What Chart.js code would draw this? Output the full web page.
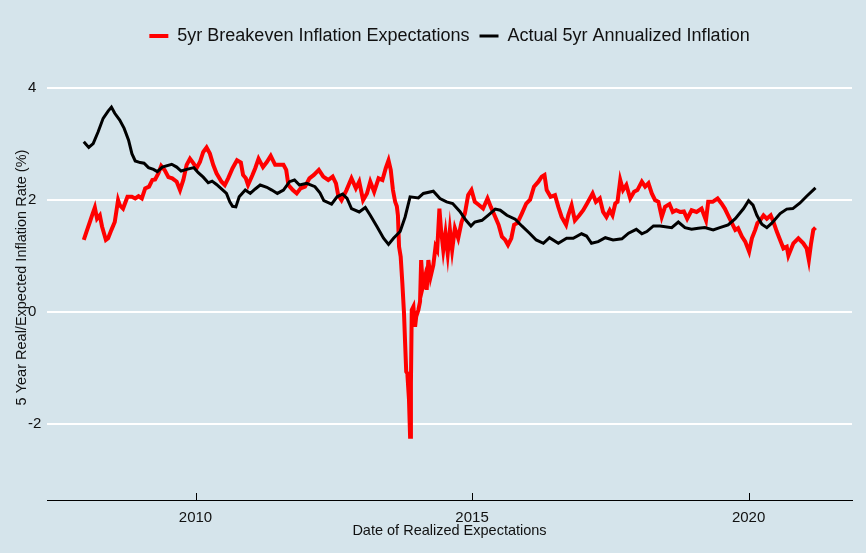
<!DOCTYPE html>
<html><head><meta charset="utf-8">
<script src="https://cdn.jsdelivr.net/npm/chart.js@4/dist/chart.umd.min.js"></script>
<style>html,body{margin:0;padding:0;background:#d5e4eb;}canvas{display:block}</style>
</head><body>
<canvas id="c" width="866" height="553"></canvas>
<script>
const seriesNames = ['5yr Breakeven Inflation Expectations', 'Actual 5yr Annualized Inflation'];
const breakevenDates = [2007.98,2008.03,2008.09,2008.13,2008.18,2008.22,2008.27,2008.31,2008.38,2008.42,2008.48,2008.54,2008.60,2008.63,2008.69,2008.77,2008.85,2008.91,2008.97,2009.03,2009.09,2009.16,2009.22,2009.27,2009.33,2009.38,2009.44,2009.51,2009.58,2009.66,2009.72,2009.78,2009.84,2009.90,2009.96,2010.02,2010.08,2010.14,2010.20,2010.26,2010.32,2010.38,2010.47,2010.53,2010.59,2010.67,2010.75,2010.82,2010.86,2010.91,2010.95,2011.03,2011.08,2011.14,2011.22,2011.29,2011.36,2011.44,2011.53,2011.59,2011.64,2011.68,2011.76,2011.83,2011.90,2011.98,2012.06,2012.14,2012.23,2012.31,2012.40,2012.48,2012.54,2012.58,2012.64,2012.73,2012.82,2012.90,2012.96,2013.03,2013.10,2013.16,2013.23,2013.31,2013.38,2013.44,2013.49,2013.53,2013.57,2013.61,2013.64,2013.66,2013.68,2013.71,2013.74,2013.77,2013.79,2013.81,2013.83,2013.86,2013.88,2013.895,2013.91,2013.94,2013.97,2013.99,2014.03,2014.06,2014.08,2014.11,2014.15,2014.18,2014.21,2014.25,2014.30,2014.34,2014.37,2014.41,2014.44,2014.48,2014.52,2014.56,2014.60,2014.64,2014.69,2014.75,2014.81,2014.87,2014.93,2014.99,2015.05,2015.13,2015.20,2015.28,2015.34,2015.42,2015.48,2015.54,2015.60,2015.65,2015.71,2015.76,2015.82,2015.90,2015.98,2016.05,2016.12,2016.20,2016.26,2016.31,2016.35,2016.42,2016.50,2016.56,2016.62,2016.70,2016.74,2016.80,2016.86,2016.94,2017.01,2017.08,2017.18,2017.24,2017.31,2017.37,2017.43,2017.49,2017.54,2017.59,2017.63,2017.68,2017.73,2017.79,2017.86,2017.93,2017.99,2018.07,2018.13,2018.19,2018.25,2018.31,2018.37,2018.43,2018.49,2018.57,2018.63,2018.69,2018.76,2018.83,2018.89,2018.97,2019.06,2019.15,2019.23,2019.27,2019.35,2019.44,2019.51,2019.57,2019.63,2019.69,2019.76,2019.81,2019.88,2019.94,2020.01,2020.06,2020.12,2020.16,2020.21,2020.27,2020.33,2020.40,2020.45,2020.51,2020.57,2020.63,2020.69,2020.72,2020.81,2020.90,2020.99,2021.05,2021.09,2021.13,2021.17,2021.21];
const breakevenValues = [1.28,1.43,1.60,1.72,1.86,1.66,1.72,1.52,1.28,1.31,1.46,1.60,1.99,1.90,1.84,2.05,2.05,2.02,2.06,2.02,2.20,2.23,2.35,2.36,2.47,2.60,2.53,2.40,2.38,2.32,2.17,2.35,2.62,2.73,2.65,2.56,2.67,2.85,2.93,2.82,2.62,2.47,2.32,2.26,2.38,2.56,2.70,2.66,2.44,2.38,2.26,2.44,2.56,2.73,2.58,2.67,2.78,2.62,2.62,2.62,2.53,2.26,2.17,2.11,2.20,2.23,2.38,2.44,2.53,2.41,2.35,2.41,2.29,2.08,1.99,2.17,2.38,2.20,2.32,1.99,2.11,2.32,2.14,2.38,2.35,2.56,2.70,2.53,2.17,1.96,1.88,1.72,1.16,0.98,0.51,-0.03,-0.56,-1.07,-1.10,-1.57,-2.23,-1.28,0.03,0.09,-0.27,-0.09,0.03,0.18,0.92,0.45,0.62,0.39,0.92,0.62,0.83,1.16,1.10,1.84,1.46,1.10,1.40,1.04,1.46,1.10,1.49,1.31,1.60,1.75,2.08,2.17,1.96,1.90,1.84,2.02,1.87,1.69,1.55,1.34,1.28,1.19,1.31,1.55,1.58,1.75,1.93,2.00,2.23,2.32,2.41,2.44,2.17,2.05,2.08,1.87,1.69,1.55,1.72,1.90,1.63,1.72,1.81,1.93,2.11,1.96,2.02,1.78,1.69,1.81,1.72,1.93,1.96,2.35,2.17,2.26,2.02,2.14,2.17,2.32,2.23,2.29,2.11,1.99,1.96,1.69,1.87,1.92,1.78,1.81,1.78,1.79,1.66,1.81,1.78,1.84,1.63,1.96,1.96,2.02,1.93,1.84,1.72,1.60,1.46,1.49,1.34,1.25,1.07,1.31,1.46,1.58,1.63,1.72,1.66,1.72,1.60,1.43,1.28,1.13,1.16,1.00,1.22,1.31,1.22,1.13,0.92,1.22,1.46,1.50];
const actualDates = [2007.98,2008.07,2008.15,2008.24,2008.33,2008.42,2008.48,2008.54,2008.63,2008.71,2008.79,2008.85,2008.91,2009.00,2009.07,2009.15,2009.24,2009.31,2009.40,2009.57,2009.66,2009.74,2009.84,2009.97,2010.05,2010.14,2010.23,2010.30,2010.38,2010.47,2010.56,2010.62,2010.67,2010.73,2010.79,2010.90,2010.99,2011.08,2011.17,2011.29,2011.38,2011.48,2011.59,2011.70,2011.79,2011.88,2012.01,2012.16,2012.25,2012.32,2012.46,2012.56,2012.66,2012.74,2012.82,2012.96,2013.07,2013.16,2013.28,2013.40,2013.49,2013.58,2013.70,2013.79,2013.88,2014.03,2014.12,2014.30,2014.42,2014.54,2014.65,2014.78,2014.89,2014.98,2015.05,2015.18,2015.29,2015.42,2015.51,2015.63,2015.78,2015.90,2016.04,2016.16,2016.29,2016.40,2016.56,2016.71,2016.83,2016.98,2017.07,2017.16,2017.28,2017.41,2017.55,2017.71,2017.83,2017.97,2018.07,2018.16,2018.28,2018.40,2018.61,2018.73,2018.85,2018.97,2019.09,2019.21,2019.36,2019.48,2019.63,2019.76,2019.91,2020.00,2020.08,2020.15,2020.24,2020.33,2020.42,2020.57,2020.69,2020.80,2020.93,2021.05,2021.21];
const actualValues = [3.03,2.93,3.00,3.21,3.45,3.58,3.65,3.54,3.42,3.27,3.06,2.82,2.69,2.66,2.65,2.57,2.54,2.50,2.58,2.63,2.58,2.51,2.54,2.57,2.48,2.40,2.30,2.33,2.27,2.19,2.11,1.96,1.88,1.87,2.05,2.17,2.11,2.19,2.26,2.22,2.17,2.11,2.17,2.32,2.35,2.26,2.29,2.23,2.12,1.98,1.92,2.05,2.10,2.02,1.84,1.78,1.86,1.72,1.52,1.31,1.20,1.31,1.43,1.69,2.05,2.03,2.11,2.15,2.02,1.96,1.93,1.79,1.63,1.53,1.60,1.63,1.72,1.83,1.81,1.72,1.65,1.53,1.40,1.28,1.22,1.32,1.22,1.31,1.31,1.39,1.35,1.22,1.25,1.32,1.28,1.30,1.40,1.47,1.39,1.43,1.53,1.53,1.50,1.60,1.50,1.47,1.49,1.50,1.46,1.50,1.55,1.66,1.84,1.98,1.90,1.72,1.56,1.50,1.58,1.75,1.83,1.84,1.94,2.06,2.21];
const xTickYears = [2010, 2015, 2020];
const yTickValues = [-2, 0, 2, 4];
const xTitle = 'Date of Realized Expectations';
const yTitle = '5 Year Real/Expected Inflation Rate (%)';

const FAMILY = '"Liberation Sans", Arial, sans-serif';
const TXT = '#111111';
const toXY = (xs, ys) => xs.map((x, i) => ({x: x, y: ys[i]}));

const upTicks = {
  id: 'upTicks',
  afterDraw(chart) {
    const s = chart.scales.x, ctx = chart.ctx;
    ctx.save();
    ctx.strokeStyle = '#000'; ctx.lineWidth = 1;
    s.ticks.forEach(t => {
      const px = Math.round(s.getPixelForValue(t.value)) + 0.5;
      ctx.beginPath(); ctx.moveTo(px, s.top); ctx.lineTo(px, s.top - 7); ctx.stroke();
    });
    ctx.restore();
  }
};

new Chart(document.getElementById('c'), {
  type: 'line',
  data: {
    datasets: [
      {label: seriesNames[0], data: toXY(breakevenDates, breakevenValues), borderColor: '#ff0000', backgroundColor: '#ff0000', borderWidth: 4, pointRadius: 0, tension: 0, order: 1},
      {label: seriesNames[1], data: toXY(actualDates, actualValues), borderColor: '#000000', backgroundColor: '#000000', borderWidth: 3, pointRadius: 0, tension: 0, order: 0}
    ]
  },
  options: {
    responsive: false, animation: false, devicePixelRatio: 1,
    layout: {padding: {top: 17, left: 28, right: 14, bottom: 0}},
    plugins: {
      legend: {
        position: 'top', fullSize: false,
        labels: {usePointStyle: true, pointStyle: 'line', pointStyleWidth: 19, font: {family: FAMILY, size: 18}, color: TXT, padding: 10,
          sort: (a, b) => a.datasetIndex - b.datasetIndex}
      },
      tooltip: {enabled: false}
    },
    scales: {
      x: {
        type: 'linear', min: 2007.315, max: 2021.87,
        afterBuildTicks: s => { s.ticks = xTickYears.map(v => ({value: v})); },
        afterFit: s => { s.height = 53; },
        grid: {display: false, drawTicks: false},
        border: {display: true, color: '#000', width: 1},
        ticks: {padding: 9, font: {family: FAMILY, size: 15}, color: TXT, maxRotation: 0, autoSkip: false, callback: v => String(v)},
        title: {display: true, text: xTitle, font: {family: FAMILY, size: 14.5}, color: TXT, padding: {top: 0, bottom: 13.3}}
      },
      y: {
        min: -3.36, max: 4.58,
        afterBuildTicks: s => { s.ticks = yTickValues.map(v => ({value: v})); },
        afterFit: s => { s.width = 19; },
        grid: {color: '#ffffff', lineWidth: 2, drawTicks: false},
        border: {display: false},
        ticks: {crossAlign: 'far', padding: 0, font: {family: FAMILY, size: 15}, color: TXT, callback: v => String(v)},
        title: {display: true, text: yTitle, font: {family: FAMILY, size: 14.5}, color: TXT, padding: {top: -14.7, bottom: 0}}
      }
    }
  },
  plugins: [upTicks]
});
</script>
</body></html>
